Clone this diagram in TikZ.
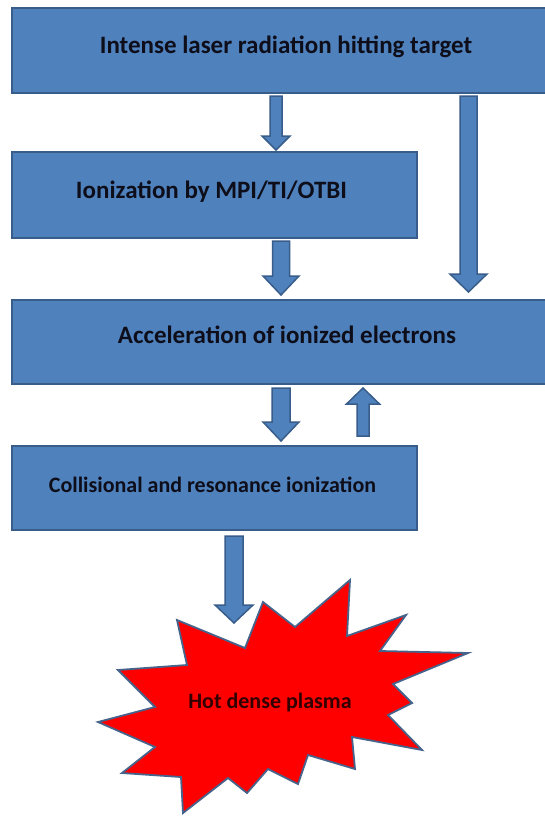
\documentclass[tikz,border=0pt]{standalone}
\usepackage{fontspec}
\setmainfont{Carlito}
\usetikzlibrary{calc}
\definecolor{boxfill}{HTML}{4F81BD}
\definecolor{boxline}{HTML}{385D8A}
\definecolor{starline}{HTML}{46638C}
\definecolor{txt}{HTML}{0E0E1A}
\tikzset{
  box/.style={draw=boxline, line width=2pt, fill=boxfill, minimum height=#1, inner sep=0pt},
  box/.default=85pt,
  lbl/.style={text=txt, font=\bfseries\fontsize{25}{28}\selectfont, inner sep=0pt},
  lblsmall/.style={lbl, font=\bfseries\fontsize{22}{25}\selectfont},
  barrow/.style={draw=boxline, line width=1.5pt, fill=boxfill, line join=miter},
}
\newcommand\blockarr[5]{%
  \draw[barrow] let \p1=#1, \p2=#2, \n2={\y2-sign(\y2-\y1)*#5pt} in
   (\x1-#3pt,\y1) -- (\x1+#3pt,\y1) -- (\x1+#3pt,\n2) -- (\x1+#4pt,\n2)
   -- (\x1,\y2) -- (\x1-#4pt,\n2) -- (\x1-#3pt,\n2) -- cycle;}
\begin{document}
\begin{tikzpicture}[x=1pt,y=-1pt]
\useasboundingbox (0,0) rectangle (545,816);
\clip (0,0) rectangle (545,816);
\fill[white] (0,0) rectangle (545,816);
% boxes
\node[box=85pt, minimum width=537pt, label={[lbl,xshift=5.5pt,yshift=3.5pt]center:Intense laser radiation hitting target}] (b1) at (280.5,50.5) {};
\node[box=86pt, minimum width=405pt, label={[lbl,xshift=-3pt,yshift=3.5pt]center:Ionization by MPI/TI/OTBI}] (b2) at (214.5,195) {};
\node[box=84pt, minimum width=537pt, label={[lbl,xshift=6.5pt,yshift=7pt]center:Acceleration of ionized electrons}] (b3) at (280.5,342) {};
\node[box=84pt, minimum width=405pt, label={[lblsmall,xshift=-2pt,yshift=3.5pt]center:Collisional and resonance ionization}] (b4) at (214.5,488) {};
% star
\draw[fill=red, draw=starline, line width=1.8pt, line join=miter]
  (177,620) -- (245,648) -- (263,602) -- (295,627) -- (350,580) -- (347,636)
  -- (406,615) -- (380,651) -- (468,653) -- (393,684) -- (412,703) -- (388,715)
  -- (422,750) -- (352,737) -- (355,769) -- (308,755) -- (298,784) -- (268,769)
  -- (247,793) -- (228,778) -- (183,813) -- (181,777) -- (122,773) -- (155,747)
  -- (98,722) -- (155,707) -- (118,670) -- (187,665) -- cycle;
\node[lblsmall, text=black!80!red] (plasma) at (270,703) {Hot dense plasma};
\coordinate (plasmatop) at (234,623);
% arrows
\blockarr{([xshift=-4.5pt,yshift=-2pt]b1.south)}{([xshift=61.5pt,yshift=1pt]b2.north)}{6}{14}{14}
\blockarr{([xshift=188pt,yshift=-2pt]b1.south)}{([xshift=188pt,yshift=7pt]b3.north)}{8.5}{18.5}{18}
\blockarr{([xshift=66.5pt,yshift=-2pt]b2.south)}{([xshift=0.5pt,yshift=4pt]b3.north)}{8.5}{18}{19}
\blockarr{([xshift=0.5pt,yshift=-3pt]b3.south)}{([xshift=66.5pt,yshift=4pt]b4.north)}{9}{18}{19}
\blockarr{([xshift=148.5pt,yshift=9pt]b4.north)}{([xshift=82.5pt,yshift=-3pt]b3.south)}{6}{16.5}{16}
\blockarr{([xshift=19.5pt,yshift=-5pt]b4.south)}{(plasmatop)}{9}{19}{18}
\end{tikzpicture}
\end{document}
